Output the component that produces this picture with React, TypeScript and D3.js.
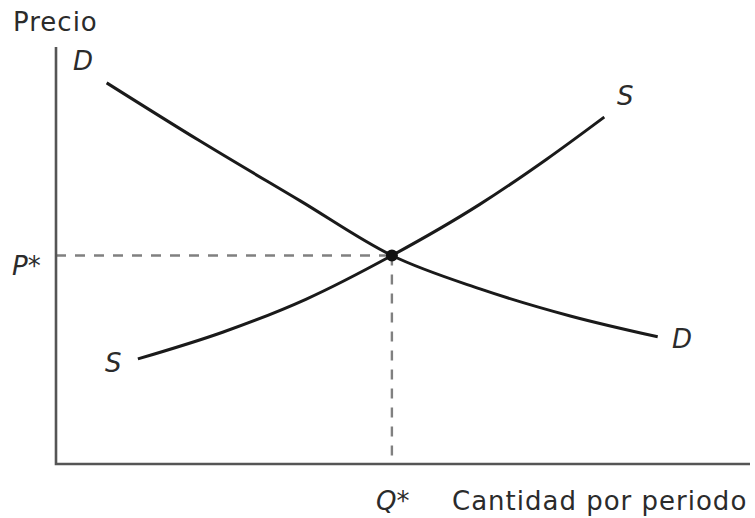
import React from "react";
import * as d3 from "d3";

type Pt = { q: number; p: number };

// readings (quantity 0-100, price 0-100)
const demand: Pt[] = [
  { q: 7.3, p: 91.4 },
  { q: 20.7, p: 77.5 },
  { q: 35.2, p: 63.1 },
  { q: 48.4, p: 50.0 },
  { q: 61.1, p: 42.0 },
  { q: 74.1, p: 35.5 },
  { q: 86.7, p: 30.5 },
];

const supply: Pt[] = [
  { q: 11.8, p: 25.2 },
  { q: 24.0, p: 31.6 },
  { q: 36.0, p: 39.5 },
  { q: 48.4, p: 50.0 },
  { q: 61.0, p: 62.2 },
  { q: 70.7, p: 73.1 },
  { q: 79.0, p: 83.2 },
];

const equilibrium: Pt = { q: 48.4, p: 50.0 };

const width = 755;
const height = 518;

const App: React.FC = () => {
  const x = d3.scaleLinear().domain([0, 100]).range([56, 750]);
  const y = d3.scaleLinear().domain([0, 100]).range([464, 47]);

  const line = d3
    .line<Pt>()
    .x((d) => x(d.q))
    .y((d) => y(d.p))
    .curve(d3.curveMonotoneX);

  const labelFont = "'DejaVu Sans', 'Liberation Sans', sans-serif";
  const textColor = "#2b2b2b";

  return (
    <svg
      width={width}
      height={height}
      viewBox={`0 0 ${width} ${height}`}
      style={{ position: "absolute", left: 0, top: 0, background: "#fff" }}
    >
      {/* dashed guides */}
      <line
        x1={x(0)}
        x2={x(equilibrium.q)}
        y1={y(equilibrium.p)}
        y2={y(equilibrium.p)}
        stroke="#808080"
        strokeWidth={2.4}
        strokeDasharray="10,9"
      />
      <line
        x1={x(equilibrium.q)}
        x2={x(equilibrium.q)}
        y1={y(equilibrium.p)}
        y2={y(0)}
        stroke="#808080"
        strokeWidth={2.4}
        strokeDasharray="10,9"
      />

      {/* axes */}
      <path
        d={`M${x(0)},${y(100)}V${y(0)}H${x(100)}`}
        fill="none"
        stroke="#555"
        strokeWidth={2.6}
      />

      {/* curves */}
      <path d={line(demand) ?? ""} fill="none" stroke="#1a1a1a" strokeWidth={3} />
      <path d={line(supply) ?? ""} fill="none" stroke="#1a1a1a" strokeWidth={3} />
      <circle cx={x(equilibrium.q)} cy={y(equilibrium.p)} r={6} fill="#111" />

      {/* labels */}
      <g fontFamily={labelFont} fontSize={26} fill={textColor}>
        <text x={13} y={31} letterSpacing={1}>Precio</text>
        <text x={452} y={510} letterSpacing={1}>Cantidad por periodo</text>
      </g>
      <g fontFamily={labelFont} fontSize={26} fontStyle="italic" fill={textColor}>
        <text x={73} y={70}>D</text>
        <text x={617} y={105}>S</text>
        <text x={672} y={348}>D</text>
        <text x={105} y={372}>S</text>
        <text x={12} y={275}>P*</text>
        <text x={376} y={510}>Q*</text>
      </g>
    </svg>
  );
};

export default App;
